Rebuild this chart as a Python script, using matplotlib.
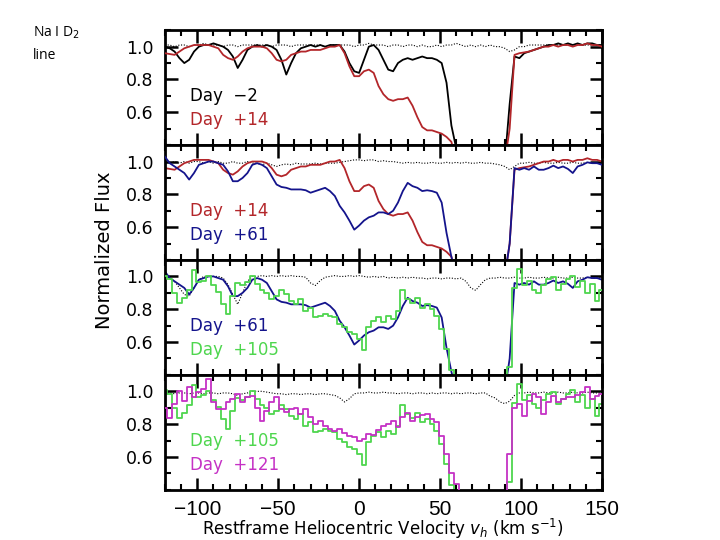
import numpy as np
import matplotlib
matplotlib.use('Agg')
import matplotlib.pyplot as plt
from matplotlib.ticker import MultipleLocator

# velocity bins (km/s), 3 km/s steps from -120 to 150
vel = np.arange(-120, 151, 3)

# Normalized flux (values below 0.4 are off the plot)
day_m2 = [1.00, 0.99, 0.97, 0.93, 0.90, 0.92, 0.97, 1.00, 1.01, 1.01,
          1.02, 1.01, 1.00, 0.98, 0.94, 0.87, 0.92, 0.98, 1.00, 1.01,
          1.00, 1.01, 1.00, 0.98, 0.92, 0.83, 0.90, 0.96, 0.99, 1.00,
          1.01, 1.00, 1.01, 1.00, 1.01, 1.01, 1.01, 0.97, 0.90, 0.85,
          0.84, 0.92, 1.00, 1.01, 0.98, 0.92, 0.86, 0.85, 0.90, 0.92,
          0.93, 0.92, 0.93, 0.94, 0.93, 0.93, 0.92, 0.90, 0.78, 0.52,
          0.38, 0.30, 0.30, 0.30, 0.30, 0.30, 0.30, 0.30, 0.30, 0.30,
          0.30, 0.65, 0.94, 0.93, 0.96, 0.97, 0.98, 0.99, 1.00, 1.01,
          1.01, 1.02, 1.01, 1.02, 1.01, 1.02, 1.01, 1.02, 1.02, 1.01,
          1.01]

day_14 = [0.96, 0.955, 0.95, 0.97, 0.99, 1.00, 1.01, 1.01, 1.01, 1.01,
          1.00, 0.99, 0.95, 0.93, 0.92, 0.94, 0.97, 0.99, 1.00, 1.00,
          1.00, 0.99, 0.96, 0.92, 0.91, 0.92, 0.95, 0.96, 0.97, 0.97,
          0.98, 0.98, 0.98, 0.99, 1.00, 1.00, 1.01, 0.96, 0.88, 0.82,
          0.82, 0.85, 0.86, 0.84, 0.76, 0.71, 0.68, 0.67, 0.68, 0.68,
          0.69, 0.64, 0.57, 0.51, 0.49, 0.49, 0.48, 0.47, 0.45, 0.42,
          0.30, 0.30, 0.30, 0.30, 0.30, 0.30, 0.30, 0.30, 0.30, 0.30,
          0.30, 0.50, 0.95, 0.96, 0.965, 0.97, 0.98, 0.99, 1.00, 1.00,
          1.01, 1.00, 1.01, 1.01, 1.00, 1.01, 1.01, 1.02, 1.01, 1.01,
          1.00]

day_61 = [1.03, 0.99, 0.97, 0.95, 0.93, 0.89, 0.93, 0.98, 0.99, 1.00,
          1.00, 0.99, 0.98, 0.94, 0.88, 0.88, 0.90, 0.93, 0.98, 0.99,
          0.98, 0.96, 0.91, 0.86, 0.845, 0.84, 0.83, 0.83, 0.83, 0.825,
          0.81, 0.82, 0.83, 0.84, 0.82, 0.79, 0.73, 0.69, 0.64, 0.585,
          0.61, 0.64, 0.66, 0.67, 0.69, 0.69, 0.68, 0.70, 0.75, 0.82,
          0.87, 0.85, 0.84, 0.82, 0.825, 0.82, 0.81, 0.75, 0.565, 0.42,
          0.30, 0.30, 0.30, 0.30, 0.30, 0.30, 0.30, 0.30, 0.30, 0.30,
          0.30, 0.50, 0.96, 0.95, 0.96, 0.95, 0.97, 0.95, 0.95, 0.96,
          0.975, 0.96, 0.97, 0.955, 0.93, 0.97, 0.98, 0.995, 0.99, 0.99,
          0.98]

day_105 = [1.005, 0.985, 0.90, 0.84, 0.87, 0.915, 1.04, 0.965, 0.975, 1.00,
           0.945, 0.905, 0.83, 0.77, 0.88, 0.96, 0.945, 0.965, 1.00, 0.955,
           0.915, 0.90, 0.86, 0.88, 0.915, 0.89, 0.85, 0.83, 0.86, 0.79,
           0.81, 0.75, 0.76, 0.77, 0.76, 0.75, 0.71, 0.69, 0.66, 0.65,
           0.62, 0.55, 0.69, 0.73, 0.75, 0.72, 0.76, 0.74, 0.79, 0.915,
           0.86, 0.84, 0.87, 0.81, 0.83, 0.80, 0.76, 0.68, 0.56, 0.43,
           0.30, 0.30, 0.30, 0.30, 0.30, 0.30, 0.30, 0.30, 0.30, 0.30,
           0.30, 0.45, 0.93, 1.046, 0.945, 0.975, 0.92, 0.90, 0.945, 0.985,
           0.995, 0.92, 0.955, 0.985, 1.005, 0.935, 0.975, 0.90, 0.955, 0.85,
           0.92]

day_121 = [0.90, 0.84, 0.92, 1.00, 0.943, 1.025, 0.963, 0.994, 1.014, 1.075,
           0.933, 0.892, 0.892, 0.933, 0.953, 0.984, 0.933, 0.963, 0.974, 0.90,
           0.821, 0.882, 0.933, 0.967, 0.892, 0.872, 0.892, 0.90, 0.862, 0.892,
           0.841, 0.801, 0.821, 0.79, 0.77, 0.76, 0.77, 0.744, 0.73, 0.72,
           0.695, 0.71, 0.74, 0.736, 0.764, 0.79, 0.80, 0.821, 0.785, 0.841,
           0.866, 0.821, 0.841, 0.858, 0.862, 0.831, 0.811, 0.73, 0.62, 0.50,
           0.435, 0.30, 0.30, 0.30, 0.30, 0.30, 0.30, 0.30, 0.30, 0.30,
           0.30, 0.62, 0.90, 0.923, 0.85, 0.943, 0.984, 0.963, 0.862, 0.933,
           0.974, 0.933, 0.953, 0.963, 0.963, 0.98, 0.994, 1.025, 0.953, 0.974,
           0.984]

# dotted telluric comparison spectra, one per panel
tell_1 = [1.01, 1.01, 1.00, 1.01, 1.01, 1.00, 1.01, 1.01, 1.02, 1.01,
          1.01, 1.01, 1.00, 1.01, 1.01, 1.00, 1.01, 1.01, 1.01, 1.01,
          1.01, 1.01, 1.00, 1.01, 1.01, 1.01, 1.00, 1.01, 1.01, 1.01,
          1.01, 1.01, 1.01, 1.00, 1.01, 1.01, 1.01, 1.01, 1.01, 1.00,
          1.01, 1.01, 1.02, 1.01, 1.01, 1.01, 1.00, 1.01, 1.01, 1.00,
          1.01, 1.01, 1.00, 1.01, 1.00, 1.00, 1.01, 1.00, 1.01, 1.01,
          1.02, 1.01, 1.00, 1.01, 1.00, 1.01, 1.00, 1.01, 1.00, 1.00,
          0.99, 0.97, 0.98, 1.00, 1.00, 1.01, 1.01, 1.01, 1.01, 1.01,
          1.01, 1.01, 1.01, 1.01, 1.01, 1.01, 1.01, 1.01, 1.01, 1.01,
          1.01]

tell_2 = [1.00, 0.99, 1.00, 0.99, 1.00, 0.99, 1.00, 1.00, 0.99, 1.00,
          0.99, 1.00, 0.99, 0.99, 1.00, 0.99, 0.99, 1.00, 0.99, 0.99,
          0.98, 0.99, 0.98, 0.97, 0.98, 0.985, 0.98, 0.99, 0.985, 0.985,
          0.985, 0.99, 0.985, 0.99, 0.99, 0.99, 0.995, 1.00, 1.005, 1.01,
          1.01, 1.005, 1.01, 1.01, 1.00, 1.005, 1.00, 1.00, 0.995, 0.99,
          0.995, 0.99, 0.995, 0.99, 0.99, 0.995, 0.99, 0.99, 0.995, 0.99,
          0.995, 0.99, 0.995, 0.99, 0.99, 0.995, 0.99, 0.99, 0.985, 0.98,
          0.97, 0.95, 0.97, 0.99, 0.99, 0.995, 0.99, 0.99, 0.995, 0.99,
          0.99, 0.995, 0.99, 0.99, 0.995, 0.99, 0.99, 0.995, 0.99, 0.99,
          0.99]

tell_3 = [1.00, 0.99, 0.97, 0.93, 0.89, 0.88, 0.93, 0.98, 1.00, 1.00,
          1.00, 1.00, 0.99, 0.95, 0.89, 0.83, 0.90, 0.97, 1.00, 1.00,
          1.005, 1.00, 1.005, 1.00, 1.005, 1.00, 1.005, 1.00, 1.00, 0.995,
          0.96, 0.945, 0.975, 0.995, 1.00, 1.005, 1.00, 1.00, 1.005, 1.00,
          1.005, 1.00, 0.995, 1.00, 0.995, 1.00, 0.99, 0.995, 0.99, 0.995,
          0.99, 0.995, 0.99, 0.99, 0.985, 0.99, 0.99, 0.985, 0.99, 0.99,
          0.985, 0.99, 0.97, 0.93, 0.915, 0.95, 0.98, 0.99, 0.99, 0.995,
          0.99, 0.99, 0.995, 0.99, 0.99, 0.995, 0.99, 0.99, 0.995, 0.99,
          0.99, 0.995, 0.99, 0.99, 0.995, 0.99, 0.99, 0.995, 0.99, 0.99,
          0.99]

tell_4 = [0.99, 0.99, 0.985, 0.99, 0.99, 0.985, 0.99, 0.99, 0.985, 0.99,
          0.99, 0.985, 0.99, 0.99, 0.985, 0.975, 0.985, 0.99, 1.00, 1.00,
          1.00, 0.995, 0.99, 0.985, 0.985, 0.98, 0.985, 0.985, 0.98, 0.985,
          0.985, 0.98, 0.985, 0.985, 0.98, 0.975, 0.96, 0.935, 0.955, 0.985,
          0.99, 0.99, 0.995, 0.99, 0.99, 0.995, 0.99, 0.99, 0.985, 0.99,
          0.99, 0.985, 0.99, 0.99, 0.985, 0.99, 0.985, 0.99, 0.99, 0.985,
          0.99, 0.985, 0.99, 0.99, 0.985, 0.99, 0.99, 0.97, 0.96, 0.935,
          0.925, 0.94, 0.975, 0.99, 0.99, 0.995, 0.99, 0.99, 0.995, 0.99,
          0.99, 0.995, 0.99, 0.99, 0.995, 0.99, 0.99, 0.995, 0.99, 0.99,
          0.99]

BLACK = '#000000'
RED = '#b3262a'
NAVY = '#14148c'
GREEN = '#4ed64e'
MAGENTA = '#c531c5'

# (first spectrum, second spectrum, telluric) for each panel
panels = [
    (('Day  \u22122', day_m2, BLACK, False), ('Day  +14', day_14, RED, False), tell_1),
    (('Day  +14', day_14, RED, False), ('Day  +61', day_61, NAVY, False), tell_2),
    (('Day  +61', day_61, NAVY, False), ('Day  +105', day_105, GREEN, True), tell_3),
    (('Day  +105', day_105, GREEN, True), ('Day  +121', day_121, MAGENTA, True), tell_4),
]

fig, axes = plt.subplots(4, 1, sharex=True, figsize=(7.2, 5.4), dpi=100)
fig.subplots_adjust(left=0.229, right=0.836, top=0.944, bottom=0.093, hspace=0)

for ax, (first, second, tell) in zip(axes, panels):
    ax.plot(vel, tell, color='black', lw=0.8, ls=(0, (1, 1.5)), zorder=1)
    for k, (label, flux, col, noisy) in enumerate([first, second]):
        ds = 'steps-mid' if noisy else 'default'
        ax.plot(vel, flux, color=col, lw=1.3, drawstyle=ds, zorder=2 + k)
        ax.text(0.057, 0.38 if k == 0 else 0.175, label, color=col,
                transform=ax.transAxes, fontsize=12, va='baseline', ha='left')
    ax.set_xlim(-120, 150)
    ax.set_ylim(0.4, 1.1)
    ax.set_yticks([0.6, 0.8, 1.0])
    ax.set_yticklabels(['0.6', '0.8', '1.0'])
    ax.yaxis.set_minor_locator(MultipleLocator(0.1))
    ax.xaxis.set_major_locator(MultipleLocator(50))
    ax.xaxis.set_minor_locator(MultipleLocator(10))
    ax.tick_params(which='both', direction='in', top=True, right=True)
    ax.tick_params(which='major', length=9, width=1.8)
    ax.tick_params(which='minor', length=4.5, width=1.5)
    ax.tick_params(axis='y', labelsize=12.5, pad=8)
    for s in ax.spines.values():
        s.set_linewidth(2)

bottom = axes[-1]
bottom.tick_params(axis='x', labelsize=15, pad=7)
for lab in bottom.get_xticklabels():
    lab.set_fontfamily('Liberation Sans')
bottom.set_xlabel('Restframe Heliocentric Velocity $v_h$ (km s$^{-1}$)',
                  fontsize=12, labelpad=-1)

fig.text(104.5 / 720, 1 - 250 / 540, 'Normalized Flux', rotation=90,
         fontsize=14, ha='center', va='center')

fig.text(33 / 720, 1 - 37 / 540, 'Na I D$_2$', fontsize=10, family='Open Sans',
         ha='left', va='baseline')
fig.text(33 / 720, 1 - 59 / 540, 'line', fontsize=10, family='Open Sans',
         ha='left', va='baseline')

fig.savefig('out.png', dpi=100)
